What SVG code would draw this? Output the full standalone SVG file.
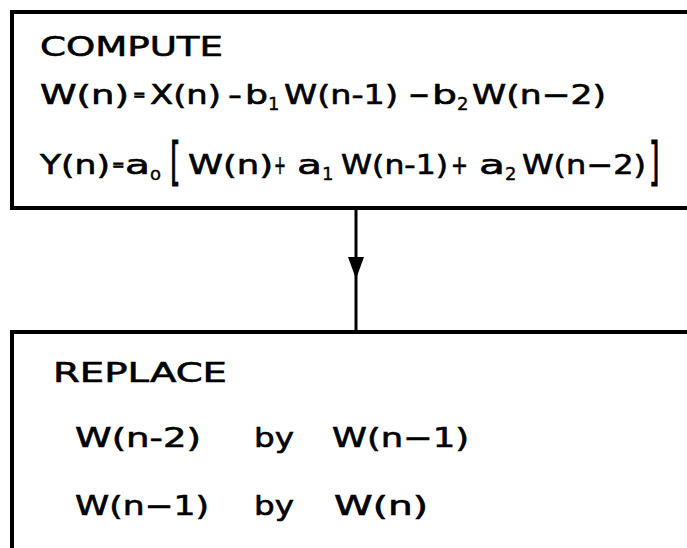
<svg xmlns="http://www.w3.org/2000/svg" width="687" height="548" viewBox="0 0 687 548">
<style>
.box{fill:none;stroke:#000;stroke-width:4}
.t{font-family:"DejaVu Sans","Liberation Sans",sans-serif;font-size:27px;fill:#000;stroke:#000;stroke-width:0.6}
.s{font-family:"DejaVu Sans","Liberation Sans",sans-serif;font-size:18px;fill:#000;stroke:#000;stroke-width:0.4}
.e{font-family:"DejaVu Sans","Liberation Sans",sans-serif;font-size:15px;fill:#000;stroke:#000;stroke-width:0.8}
.c{stroke:#000;stroke-width:3;fill:none}
</style>
<rect width="687" height="548" fill="#fff"/>
<g id="compute">
<path class="box" d="M690,12 H12 V208 H690"/>
<text class="t" x="40" y="56" textLength="183" lengthAdjust="spacingAndGlyphs">COMPUTE</text>
<text class="t" x="40" y="104" textLength="89" lengthAdjust="spacingAndGlyphs">W(n)</text>
<text class="e" x="133" y="100">=</text>
<text class="t" x="150" y="104" textLength="71" lengthAdjust="spacingAndGlyphs">X(n)</text>
<text class="t" x="228" y="104" textLength="14" lengthAdjust="spacingAndGlyphs">-</text>
<text class="t" x="245" y="104" textLength="23" lengthAdjust="spacingAndGlyphs">b</text>
<text class="s" x="268" y="110">1</text>
<text class="t" x="284" y="104" textLength="114" lengthAdjust="spacingAndGlyphs">W(n-1)</text>
<text class="t" x="408" y="104" textLength="22" lengthAdjust="spacingAndGlyphs">−</text>
<text class="t" x="432" y="104" textLength="25" lengthAdjust="spacingAndGlyphs">b</text>
<text class="s" x="457" y="110">2</text>
<text class="t" x="472" y="104" textLength="134" lengthAdjust="spacingAndGlyphs">W(n−2)</text>
<text class="t" x="40" y="174" textLength="70" lengthAdjust="spacingAndGlyphs">Y(n)</text>
<text class="e" x="112" y="170">=</text>
<text class="t" x="125" y="174" textLength="25" lengthAdjust="spacingAndGlyphs">a</text>
<text class="s" x="150" y="180">o</text>
<text class="t" transform="scale(1,1.91)" x="170" y="93.8">[</text>
<text class="t" x="188" y="174" textLength="85" lengthAdjust="spacingAndGlyphs">W(n)</text>
<text class="t" x="274" y="174" textLength="12" lengthAdjust="spacingAndGlyphs">+</text>
<text class="t" x="297" y="174" textLength="25" lengthAdjust="spacingAndGlyphs">a</text>
<text class="s" x="322" y="180">1</text>
<text class="t" x="341" y="174" textLength="107" lengthAdjust="spacingAndGlyphs">W(n-1)</text>
<text class="t" x="451" y="174" textLength="17" lengthAdjust="spacingAndGlyphs">+</text>
<text class="t" x="479" y="174" textLength="26" lengthAdjust="spacingAndGlyphs">a</text>
<text class="s" x="505" y="180">2</text>
<text class="t" x="522" y="174" textLength="124" lengthAdjust="spacingAndGlyphs">W(n−2)</text>
<text class="t" transform="scale(1,1.91)" x="649" y="93.8">]</text>
</g>
<g id="connectors">
<line class="c" x1="356" y1="210" x2="356" y2="332"/>
<path d="M348,257 L364,257 L356,279 Z" fill="#000"/>
</g>
<g id="replace">
<path class="box" d="M690,332 H12 V552"/>
<text class="t" x="53" y="382" textLength="174" lengthAdjust="spacingAndGlyphs">REPLACE</text>
<text class="t" x="75" y="447" textLength="126" lengthAdjust="spacingAndGlyphs">W(n-2)</text>
<text class="t" x="254" y="447" textLength="40" lengthAdjust="spacingAndGlyphs">by</text>
<text class="t" x="332" y="447" textLength="137" lengthAdjust="spacingAndGlyphs">W(n−1)</text>
<text class="t" x="75" y="515" textLength="134" lengthAdjust="spacingAndGlyphs">W(n−1)</text>
<text class="t" x="254" y="515" textLength="40" lengthAdjust="spacingAndGlyphs">by</text>
<text class="t" x="334" y="515" textLength="94" lengthAdjust="spacingAndGlyphs">W(n)</text>
</g>
</svg>
